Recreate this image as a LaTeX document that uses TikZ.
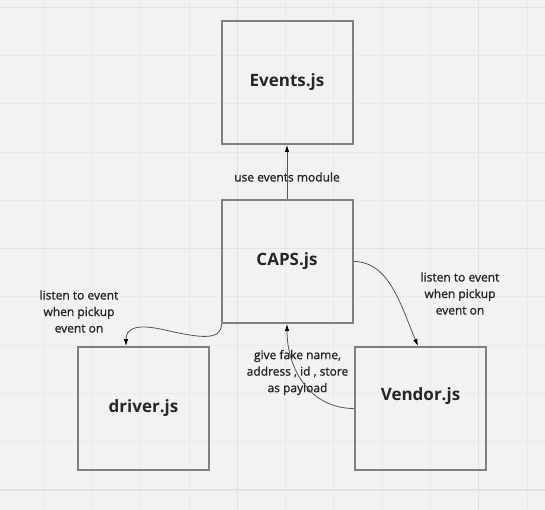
\documentclass[tikz,border=0pt]{standalone}
\usepackage{fontspec}
\setmainfont{Open Sans}
\newfontfamily\lblfont{Open Sans}[FakeBold=1.2]
\usetikzlibrary{arrows.meta}
\definecolor{bgc}{HTML}{F2F2F2}
\definecolor{gridminor}{HTML}{EAEAEA}
\definecolor{gridmajor}{HTML}{E2E2E2}
\definecolor{boxline}{HTML}{7F7F7F}
\definecolor{connline}{HTML}{555555}
\definecolor{txt}{HTML}{262626}
\tikzset{
  box/.style={draw=boxline, line width=2pt, minimum width=131pt, minimum height=123pt, inner sep=0pt,
    font=\fontsize{17}{20}\selectfont\bfseries, text=txt},
  boxtitle/.style={font=\fontsize{17}{20}\selectfont\bfseries, text=txt, inner sep=0pt},
  lbl/.style={font=\lblfont\fontsize{12}{16.5}\selectfont, text=txt, align=center, inner sep=0pt},
  conn/.style={draw=connline, line width=0.8pt, -{Latex[length=7pt,width=4.5pt,fill=black,color=black]}},
}
\begin{document}
\begin{tikzpicture}[x=1pt,y=-1pt]
  \fill[bgc] (0,0) rectangle (545,510);
  \useasboundingbox (0,0) rectangle (545,510);
  % grid
  \foreach \k in {0,...,12} {
    \pgfmathsetmacro{\gx}{-3.9+48.27*\k}
    \pgfmathsetmacro{\gy}{7.3+48.27*\k}
    \draw[gridminor, line width=1pt] (\gx,0) -- (\gx,510);
    \draw[gridminor, line width=1pt] (0,\gy) -- (545,\gy);
  }
  \foreach \k in {0,1,2} {
    \pgfmathsetmacro{\gx}{-3.9+241.35*\k}
    \pgfmathsetmacro{\gy}{7.3+241.35*\k}
    \draw[gridmajor, line width=1.2pt] (\gx,0) -- (\gx,510);
    \draw[gridmajor, line width=1.2pt] (0,\gy) -- (545,\gy);
  }
  % boxes
  \node[box] (events) at (287,82.5) {Events.js};
  \node[box] (caps) at (287,261.5) {\raisebox{1.5pt}{CAPS.js}};
  \node[box] (driver) at (143.5,408.5) {driver.js};
  \node[box] (vendor) at (420.5,408.5) {};
  \node[boxtitle] (vendortitle) at (420.5,396) {Vendor.js};
  % labels
  \node[lbl] (lusemod) at (287,177) {use events module};
  \node[lbl] (lleft) at (79,311.5) {listen to event\\when pickup\\event on};
  \node[lbl] (lright) at (460,293.5) {listen to event\\when pickup\\event on};
  \node[lbl] (lpay) at (297.5,372.5) {give fake name,\\address , id , store\\as payload};
  % connectors
  \draw[conn] (caps.east) .. controls ++(36,0) and ([xshift=-19.5pt,yshift=40pt]vendor.north) .. ([xshift=-2.5pt]vendor.north);
  \draw[conn] ([xshift=1pt]caps.south west) .. controls ++(0,17) and (200,338) .. (165,330)
     .. controls (135,323) and ([xshift=-17.5pt,yshift=17pt]driver.north) .. ([xshift=-17.5pt]driver.north);
  \draw[conn] (vendor.west) .. controls ++(-44,0) and ([yshift=-45pt]caps.south) .. (caps.south);
  \draw[conn] (caps.north) -- (events.south);
\end{tikzpicture}
\end{document}
